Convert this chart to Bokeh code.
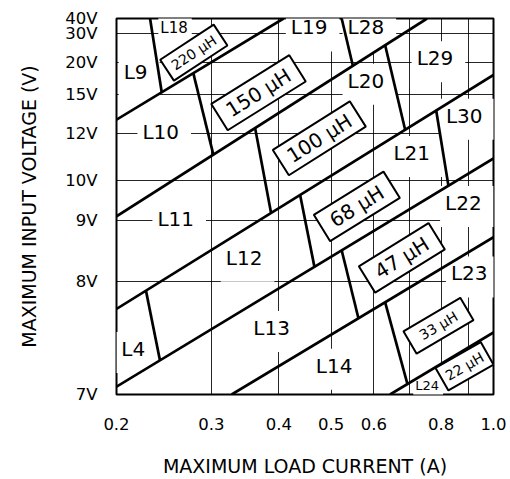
import numpy as np
from bokeh.plotting import figure
from bokeh.models import FixedTicker, NumeralTickFormatter, Range1d
from bokeh.embed import file_html
from bokeh.resources import INLINE
from bokeh.core.properties import value

# ---- axes definitions -------------------------------------------------------
x_tick_vals = [0.2, 0.3, 0.4, 0.5, 0.6, 0.8, 1.0]
x_grid_vals = [0.3, 0.4, 0.5, 0.6, 0.7, 0.8, 0.9]
# the voltage axis of this chart is non-uniform: tick voltages and their
# relative height along the axis (0 = bottom, 1 = top)
y_tick_volts = [7, 8, 9, 10, 12, 15, 20, 30, 40]
y_tick_frac = [0.0, 0.3013, 0.4623, 0.5692, 0.6939, 0.7984, 0.8833, 0.9610, 1.0]
y_grid_volts = [8, 9, 10, 12, 15, 20, 30]

# ---- boundary lines between inductance bands (current A, voltage V) -------
band_I = [[0.2, 0.408], [0.2, 0.753], [0.2, 1.0], [0.2, 1.0], [0.327, 1.0], [0.643, 1.0]]
band_V = [[13.06, 40], [9.11, 40], [7.755, 18.02], [7.069, 10.94], [7.0, 8.728], [7.0, 7.548]]

# ---- dividers between inductor codes ----------------------------------------
div_I = [[0.2308, 0.2426], [0.2776, 0.3024], [0.523, 0.5486], [0.3614, 0.3869],
         [0.6297, 0.6858], [0.2268, 0.2408], [0.438, 0.4656], [0.783, 0.825],
         [0.523, 0.5618], [0.6297, 0.6926]]
div_V = [[40, 15.31], [18.31, 11.1], [40, 19.47], [12.43, 9.19],
         [25.87, 12.29], [7.917, 7.301], [9.638, 8.237], [13.76, 9.871],
         [8.512, 7.673], [7.814, 7.092]]

# ---- inductor code labels ----------------------------------------------------
code_text = ["L9", "L10", "L19", "L28", "L29", "L20", "L30", "L21", "L11",
             "L12", "L22", "L23", "L4", "L13", "L14"]
code_I = [0.2203, 0.2452, 0.462, 0.5886, 0.7906, 0.5886, 0.8956, 0.7158, 0.2614,
          0.35, 0.8926, 0.915, 0.218, 0.3936, 0.514]
code_V = [17.89, 11.91, 31.5, 31.5, 20.2, 16.58, 13.1, 11.02, 8.975,
          8.33, 9.355, 8.07, 7.37, 7.557, 7.223]
small_code_text = ["L18", "L24"]
small_code_I = [0.2568, 0.7566]
small_code_V = [32.7, 7.067]
small_code_size = ["15px", "13px"]

# ---- inductance value boxes --------------------------------------------------
box_text = ["150 µH", "100 µH", "68 µH", "47 µH"]
box_I = [0.3667, 0.4754, 0.558, 0.6762]
box_V = [15.25, 11.80, 9.355, 8.386]
box_w = [92, 91, 82, 82]
box_h = [31, 30, 31, 31]
box_ang = [32.0, 32.3, 31.8, 31.8]

sbox_text = ["220 µH", "33 µH", "22 µH"]
sbox_I = [0.2782, 0.7906, 0.8838]
sbox_V = [23.34, 7.607, 7.249]
sbox_w = [64, 66, 52]
sbox_h = [25, 26, 26]
sbox_ang = [33.3, 30.5, 29.7]


def ypos(v):
    return np.interp(v, y_tick_volts, y_tick_frac)


FONT = "DejaVu Sans"

p = figure(width=510, height=479, x_axis_type="log",
           x_range=Range1d(0.2, 1.0), y_range=Range1d(0, 1),
           output_backend="svg", toolbar_location=None,
           min_border_left=116, min_border_right=17,
           min_border_top=18, min_border_bottom=84)

p.outline_line_color = "black"
p.outline_line_width = 2
p.background_fill_color = "white"
p.border_fill_color = "white"

# grids
p.xgrid.ticker = FixedTicker(ticks=x_grid_vals)
p.ygrid.ticker = FixedTicker(ticks=[float(ypos(v)) for v in y_grid_volts])
for g in (p.xgrid, p.ygrid):
    g.grid_line_color = "black"
    g.grid_line_width = 1
    g.grid_line_alpha = 0.85

# axes
p.xaxis.ticker = FixedTicker(ticks=x_tick_vals)
p.xaxis.formatter = NumeralTickFormatter(format="0.0")
ypos_ticks = [float(ypos(v)) for v in y_tick_volts]
p.yaxis.ticker = FixedTicker(ticks=ypos_ticks)
p.yaxis.major_label_overrides = {t: f"{v}V" for t, v in zip(ypos_ticks, y_tick_volts)}
for ax in (p.xaxis, p.yaxis):
    ax.axis_line_color = None
    ax.major_tick_line_color = None
    ax.minor_tick_line_color = None
    ax.major_label_text_font = FONT
    ax.major_label_text_font_size = "16.5px"
    ax.major_label_text_color = "black"
    ax.axis_label_text_font = FONT
    ax.axis_label_text_font_size = "19px"
    ax.axis_label_text_font_style = "normal"
    ax.axis_label_text_color = "black"
p.xaxis.major_label_standoff = 17
p.yaxis.major_label_standoff = 13
p.xaxis.axis_label = "MAXIMUM LOAD CURRENT (A)"
p.yaxis.axis_label = "MAXIMUM INPUT VOLTAGE (V)"
p.xaxis.axis_label_standoff = 22
p.yaxis.axis_label_standoff = 22

# code labels (white background hides the grid behind them)
p.text(x=code_I, y=[float(ypos(v)) for v in code_V], text=code_text,
       text_font=value(FONT), text_font_size="20px", text_color="black",
       text_align="center", text_baseline="middle",
       background_fill_color="white", padding=(5, 12, 5, 12))
p.text(x=small_code_I, y=[float(ypos(v)) for v in small_code_V], text=small_code_text,
       text_font=value(FONT), text_font_size=small_code_size, text_color="black",
       text_align="center", text_baseline="middle",
       background_fill_color="white", padding=(2, 4, 2, 4))

# band boundaries and dividers
p.multi_line(xs=band_I, ys=[[float(ypos(v)) for v in vv] for vv in band_V],
             line_color="black", line_width=2.7)
p.multi_line(xs=div_I, ys=[[float(ypos(v)) for v in vv] for vv in div_V],
             line_color="black", line_width=2.7)

# inductance boxes
p.rect(x=box_I, y=[float(ypos(v)) for v in box_V], width=box_w, height=box_h,
       width_units="screen", height_units="screen",
       angle=box_ang, angle_units="deg",
       fill_color="white", line_color="black", line_width=2)
p.text(x=box_I, y=[float(ypos(v)) for v in box_V], text=box_text,
       angle=box_ang, angle_units="deg",
       text_font=value(FONT), text_font_size="20px", text_color="black",
       text_align="center", text_baseline="middle")
p.rect(x=sbox_I, y=[float(ypos(v)) for v in sbox_V], width=sbox_w, height=sbox_h,
       width_units="screen", height_units="screen",
       angle=sbox_ang, angle_units="deg",
       fill_color="white", line_color="black", line_width=2)
p.text(x=sbox_I, y=[float(ypos(v)) for v in sbox_V], text=sbox_text,
       angle=sbox_ang, angle_units="deg",
       text_font=value(FONT), text_font_size="14px", text_color="black",
       text_align="center", text_baseline="middle")

open("out.html", "w").write(file_html(p, INLINE))
